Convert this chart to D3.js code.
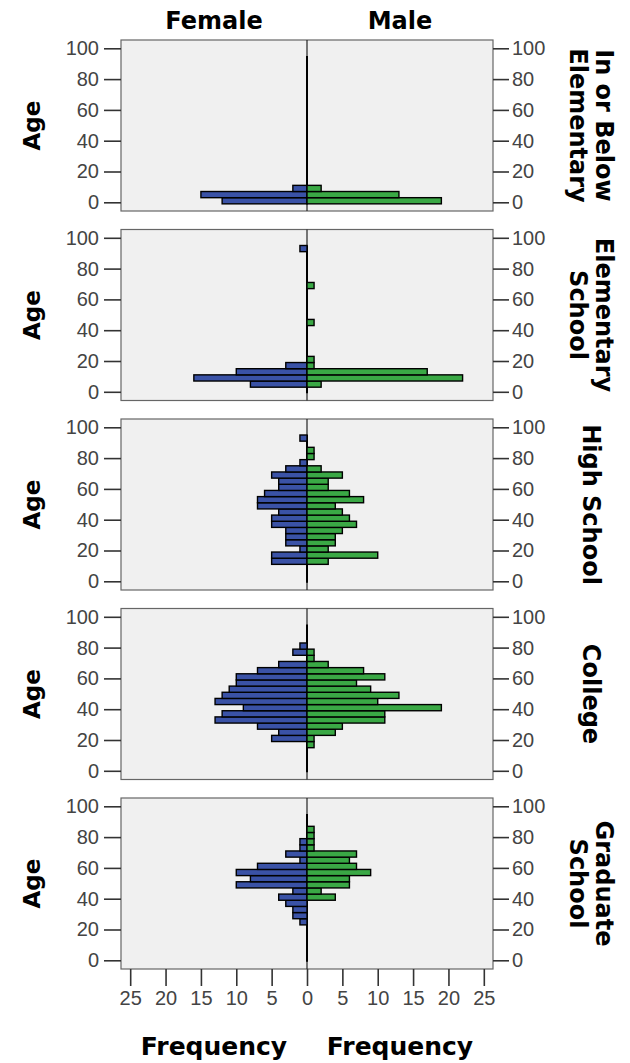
<!DOCTYPE html>
<html><head><meta charset="utf-8">
<script src="https://cdn.jsdelivr.net/npm/d3@7"></script>
<style>body{margin:0;background:#fff} svg{display:block}</style>
</head><body>
<svg id="c" width="630" height="1063"></svg>
<script>
// ---- data ----
const binStarts = [-1,3,7,11,15,19,23,27,31,35,39,43,47,51,55,59,63,67,71,75,79,83,87,91];
const binWidth = 4;
const genders = ["Female", "Male"];
const educationLabels = [["In or Below","Elementary"],["Elementary","School"],["High School"],["College"],["Graduate","School"]];
const femaleBelowElementary = [12,15,2,0,0,0,0,0,0,0,0,0,0,0,0,0,0,0,0,0,0,0,0,0];
const maleBelowElementary   = [19,13,2,0,0,0,0,0,0,0,0,0,0,0,0,0,0,0,0,0,0,0,0,0];
const femaleElementary = [0,8,16,10,3,0,0,0,0,0,0,0,0,0,0,0,0,0,0,0,0,0,0,1];
const maleElementary   = [0,2,22,17,1,1,0,0,0,0,0,1,0,0,0,0,0,1,0,0,0,0,0,0];
const femaleHighSchool = [0,0,0,5,5,1,3,3,3,5,5,4,7,7,6,4,4,5,3,1,0,0,0,1];
const maleHighSchool   = [0,0,0,3,10,3,4,4,5,7,6,5,4,8,6,3,3,5,2,0,1,1,0,0];
const femaleCollege = [0,0,0,0,0,5,4,7,13,12,9,13,12,11,10,10,7,4,0,2,1,0,0,0];
const maleCollege   = [0,0,0,0,1,1,4,5,11,11,19,10,13,9,7,11,8,3,1,1,0,0,0,0];
const femaleGraduate = [0,0,0,0,0,0,1,2,2,3,4,2,10,8,10,7,1,3,1,1,0,0,0,0];
const maleGraduate   = [0,0,0,0,0,0,0,0,0,0,4,2,6,6,9,7,6,7,1,1,1,1,0,0];
const ageTicks = [0,20,40,60,80,100];
const freqTicks = [0,5,10,15,20,25];

const femaleSeries = [femaleBelowElementary, femaleElementary, femaleHighSchool, femaleCollege, femaleGraduate];
const maleSeries = [maleBelowElementary, maleElementary, maleHighSchool, maleCollege, maleGraduate];

// ---- layout ----
const svg = d3.select("#c");
const L = 121, C = 307, R = 493;
const panelTop0 = 40, panelStep = 189.5, panelH = 171;
const xF = d3.scaleLinear().domain([0, 26.3]).range([C, L]);
const xM = d3.scaleLinear().domain([0, 26.3]).range([C, R]);
const fColor = "#3a52a6", mColor = "#3aa845";
const tickFont = "'Liberation Sans', Arial, sans-serif";
const boldFont = "'DejaVu Sans', Verdana, sans-serif";

function styleAxis(g) {
  g.select(".domain").remove();
  g.selectAll(".tick line").attr("stroke", "#333").attr("stroke-width", 1.6);
  g.selectAll(".tick text").attr("fill", "#444").attr("font-size", 20).attr("font-family", tickFont);
}

educationLabels.forEach((lab, i) => {
  const top = panelTop0 + i * panelStep;
  const y = d3.scaleLinear().domain([0, 100]).range([top + 162.3, top + 8.3]);
  const g = svg.append("g");

  g.append("rect").attr("x", L).attr("y", top).attr("width", R - L).attr("height", panelH)
    .attr("fill", "#f0f0f0").attr("stroke", "#666").attr("stroke-width", 1.2);

  // left / right axes
  g.append("g").attr("transform", `translate(${L},0)`)
    .call(d3.axisLeft(y).tickValues(ageTicks).tickSize(17).tickPadding(5)).call(styleAxis);
  g.append("g").attr("transform", `translate(${R},0)`)
    .call(d3.axisRight(y).tickValues(ageTicks).tickSize(16).tickPadding(3)).call(styleAxis);

  // divider
  g.append("line").attr("x1", C).attr("x2", C).attr("y1", top).attr("y2", top + panelH)
    .attr("stroke", "#222").attr("stroke-width", 1.2);
  // zero-frequency outline along the bin range
  g.append("line").attr("x1", C).attr("x2", C)
    .attr("y1", y(binStarts[0])).attr("y2", y(binStarts[binStarts.length - 1] + binWidth))
    .attr("stroke", "#000").attr("stroke-width", 2);

  const fData = binStarts.map((s, k) => ({s, v: femaleSeries[i][k]})).filter(d => d.v > 0);
  const mData = binStarts.map((s, k) => ({s, v: maleSeries[i][k]})).filter(d => d.v > 0);

  g.selectAll(".fb").data(fData).join("rect")
    .attr("x", d => xF(d.v)).attr("width", d => C - xF(d.v))
    .attr("y", d => y(d.s + binWidth)).attr("height", d => y(d.s) - y(d.s + binWidth))
    .attr("fill", fColor).attr("stroke", "#000").attr("stroke-width", 1.4);
  g.selectAll(".mb").data(mData).join("rect")
    .attr("x", C).attr("width", d => xM(d.v) - C)
    .attr("y", d => y(d.s + binWidth)).attr("height", d => y(d.s) - y(d.s + binWidth))
    .attr("fill", mColor).attr("stroke", "#000").attr("stroke-width", 1.4);

  // Age label
  const cy = top + panelH / 2;
  svg.append("text").attr("transform", `translate(40,${cy}) rotate(-90)`)
    .attr("text-anchor", "middle").attr("font-family", boldFont).attr("font-weight", "bold")
    .attr("font-size", 23).attr("fill", "#000").text("Age");

  // facet label (rotated 90)
  const n = lab.length, lh = 26;
  const t = svg.append("text").attr("transform", `translate(592,${cy}) rotate(90)`)
    .attr("text-anchor", "middle").attr("font-family", boldFont).attr("font-weight", "bold")
    .attr("font-size", 24).attr("fill", "#000");
  lab.forEach((line, j) => {
    t.append("tspan").attr("x", 0).attr("y", (j - (n - 1) / 2) * lh + 9).text(line);
  });
});

// bottom axis
const bottom = panelTop0 + 4 * panelStep + panelH;
svg.append("g").attr("transform", `translate(0,${bottom})`)
  .call(d3.axisBottom(xF).tickValues(freqTicks.filter(v => v > 0)).tickSize(17).tickPadding(5)).call(styleAxis);
svg.append("g").attr("transform", `translate(0,${bottom})`)
  .call(d3.axisBottom(xM).tickValues(freqTicks).tickSize(17).tickPadding(5)).call(styleAxis);

// gender titles and frequency titles
genders.forEach((gname, j) => {
  const sc = j === 0 ? xF : xM;
  const cx = (sc(0) + sc(26.3)) / 2;
  svg.append("text").attr("x", cx).attr("y", 29).attr("text-anchor", "middle")
    .attr("font-family", boldFont).attr("font-weight", "bold").attr("font-size", 24).text(gname);
  svg.append("text").attr("x", cx).attr("y", 1055).attr("text-anchor", "middle")
    .attr("font-family", boldFont).attr("font-weight", "bold").attr("font-size", 25).text("Frequency");
});
</script>
</body></html>
